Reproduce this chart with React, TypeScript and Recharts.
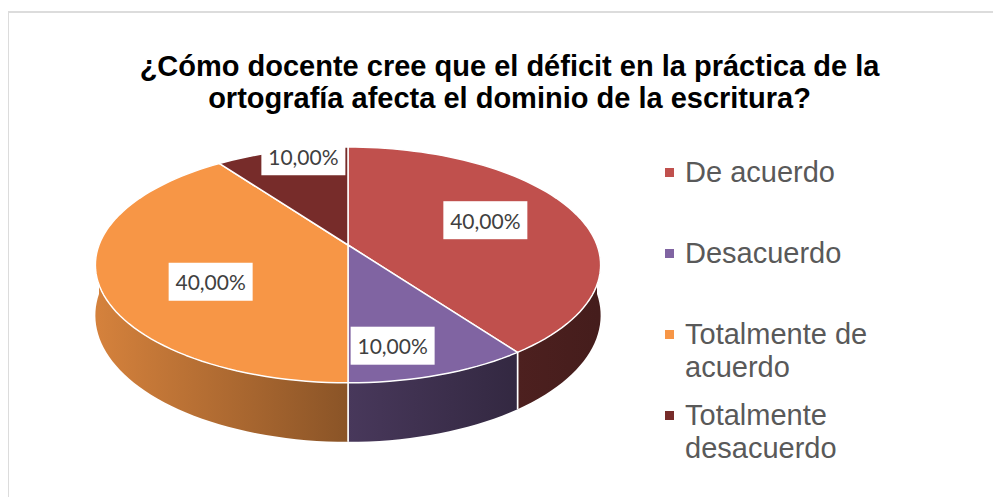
import React from "react";
import { PieChart, Pie, Cell, Legend } from "recharts";

const categories = [
  "De acuerdo",
  "Desacuerdo",
  "Totalmente de acuerdo",
  "Totalmente desacuerdo",
];
const values = [40, 10, 40, 10];
const colors = ["#C0504D", "#8064A2", "#F79646", "#772C2A"];

const chartData = categories.map((name, i) => ({ name, value: values[i] }));

// fake 3d look: tilt of the top face, wall height and a bit of perspective
const TILT = 0.46;
const DEPTH = 0.197;
const PERSP = 0.169;

function project(cx: number, cy: number, R: number, r: number, deg: number, h: number) {
  const a = (deg * Math.PI) / 180;
  const z = (r / R) * Math.sin(a);
  const f = 1 / (1 + PERSP * z);
  return [cx + r * Math.cos(a) * f, cy + (-R * TILT * z + h * R * DEPTH) * f];
}

function arc(cx: number, cy: number, R: number, from: number, to: number, h: number) {
  const steps = Math.max(2, Math.ceil(Math.abs(from - to) / 2));
  const pts: number[][] = [];
  for (let i = 0; i <= steps; i++) {
    pts.push(project(cx, cy, R, R, from + ((to - from) * i) / steps, h));
  }
  return pts;
}

function shade(hex: string, k: number) {
  const n = parseInt(hex.slice(1), 16);
  const c = [(n >> 16) & 255, (n >> 8) & 255, n & 255].map((v) => Math.round(v * k));
  return `rgb(${c[0]},${c[1]},${c[2]})`;
}

const Slice3D = (props: any) => {
  const { cx, cy, outerRadius: R, startAngle: s, endAngle: e, fill } = props;
  const gid = `side-${String(fill).replace("#", "")}`;
  const hi = Math.min(s, 0);
  const lo = Math.max(e, -180);
  let side = null;
  if (hi > lo) {
    const top = arc(cx, cy, R, hi, lo, 0);
    const bottom = arc(cx, cy, R, lo, hi, 1);
    const d =
      "M" + top.concat(bottom).map((p) => `${p[0]},${p[1]}`).join("L") + "Z";
    const edges = [] as number[];
    if (hi === s) edges.push(s);
    if (lo === e) edges.push(e);
    side = (
      <g>
        <path d={d} fill={`url(#${gid})`} stroke="none" />
        {edges.map((a) => {
          const p0 = project(cx, cy, R, R, a, 0);
          const p1 = project(cx, cy, R, R, a, 1);
          return (
            <line key={a} x1={p0[0]} y1={p0[1]} x2={p1[0]} y2={p1[1]} stroke="#fff" strokeWidth={1.5} />
          );
        })}
      </g>
    );
  }
  const topPts = arc(cx, cy, R, s, e, 0);
  const topD =
    `M${cx},${cy}L` + topPts.map((p) => `${p[0]},${p[1]}`).join("L") + "Z";
  return (
    <g>
      <defs>
        <linearGradient id={gid} gradientUnits="userSpaceOnUse" x1={cx - R} y1={0} x2={cx + R} y2={0}>
          <stop offset="0" stopColor={shade(fill, 0.86)} />
          <stop offset="0.5" stopColor={shade(fill, 0.56)} />
          <stop offset="0.84" stopColor={shade(fill, 0.4)} />
          <stop offset="1" stopColor={shade(fill, 0.36)} />
        </linearGradient>
      </defs>
      {side}
      <path d={topD} fill={fill} stroke="#fff" strokeWidth={1.5} strokeLinejoin="round" />
    </g>
  );
};

// labels sit on a flattened ring inside the top face
const renderLabel = (props: any) => {
  const { cx, cy, midAngle, outerRadius: R, percent } = props;
  const a = (midAngle * Math.PI) / 180;
  const x = cx + R * 0.58 * Math.cos(a);
  const y = cy + R * 0.024 - R * 0.4 * Math.sin(a);
  const text = (percent * 100).toFixed(2).replace(".", ",") + "%";
  return (
    <g>
      <rect x={x - 42} y={y - 19} width={84} height={38} fill="#fff" />
      <text
        x={x}
        y={y}
        textAnchor="middle"
        dominantBaseline="central"
        fontFamily="Lato, 'Open Sans', sans-serif"
        fontSize={21}
        fill="#404040"
      >
        {text}
      </text>
    </g>
  );
};

const renderLegend = (props: any) => {
  const { payload } = props;
  return (
    <div style={{ width: 230 }}>
      {(payload || []).map((entry: any, i: number) => (
        <div key={i} style={{ height: 81, display: "flex", alignItems: "flex-start" }}>
          <span
            style={{
              width: 9,
              height: 9,
              background: entry.color,
              marginTop: 12,
              marginRight: 11,
              flex: "none",
            }}
          />
          <span
            style={{
              maxWidth: 205,
              font: '29px "Liberation Sans", Arial, sans-serif',
              lineHeight: "33px",
              color: "#595959",
            }}
          >
            {entry.value}
          </span>
        </div>
      ))}
    </div>
  );
};

export default function App() {
  return (
    <div style={{ position: "relative", width: 993, height: 489 }}>
      <div
        style={{
          position: "absolute",
          left: -1,
          top: 3,
          width: 992,
          height: 486,
          borderLeft: "2px solid #dcdcdc",
          borderTop: "2px solid #dcdcdc",
          boxSizing: "border-box",
        }}
      />
      <div
        style={{
          position: "absolute",
          left: 0,
          top: 42,
          width: 1003,
          textAlign: "center",
          font: 'bold 29px "Liberation Sans", Arial, sans-serif',
          lineHeight: "32px",
          color: "#000",
        }}
      >
        ¿Cómo docente cree que el déficit en la práctica de la
        <br />
        ortografía afecta el dominio de la escritura?
      </div>
      <div style={{ position: "absolute", left: 0, top: 0 }}>
        <PieChart width={993} height={489}>
          <Pie
            data={chartData}
            dataKey="value"
            nameKey="name"
            cx={335}
            cy={232}
            outerRadius={249}
            startAngle={90}
            endAngle={-270}
            shape={Slice3D}
            label={renderLabel}
            labelLine={false}
            isAnimationActive={false}
          >
            {chartData.map((d, i) => (
              <Cell key={d.name} fill={colors[i]} />
            ))}
          </Pie>
          <Legend
            layout="vertical"
            verticalAlign="top"
            align="right"
            wrapperStyle={{ left: 657, right: "auto", top: 147.5 }}
            content={renderLegend}
          />
        </PieChart>
      </div>
    </div>
  );
}
